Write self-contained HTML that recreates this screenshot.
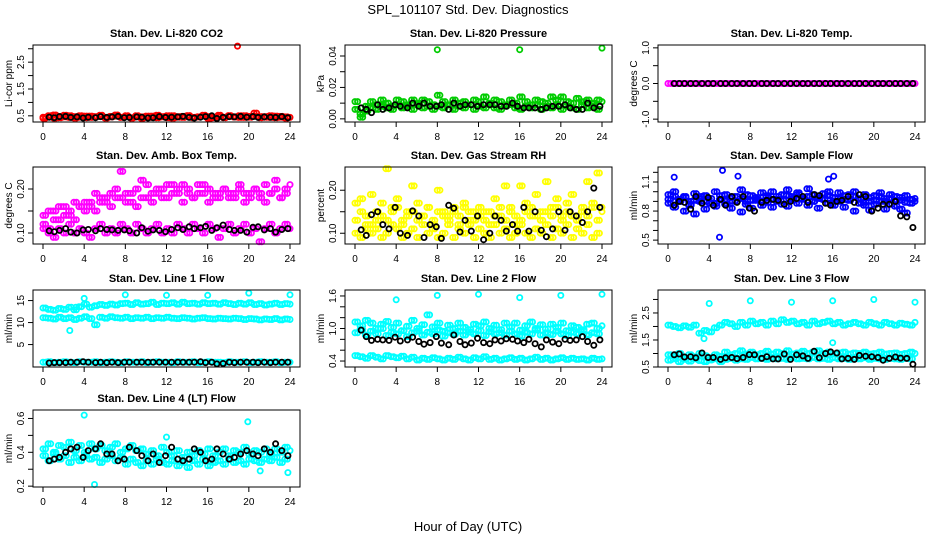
<!DOCTYPE html>
<html><head><meta charset="utf-8">
<style>
body{margin:0;background:#fff;}
svg{display:block;font-family:"Liberation Sans",Arial,sans-serif;}
</style></head>
<body>
<svg id="c" width="936" height="540" viewBox="0 0 936 540">
<text x="468" y="14" text-anchor="middle" font-size="13">SPL_101107  Std. Dev. Diagnostics</text>
<text x="468" y="531" text-anchor="middle" font-size="13">Hour of Day (UTC)</text>
</svg>
<script>
// hours (x categories)
const H = [0,0.5,1,1.5,2,2.5,3,3.5,4,4.5,5,5.5,6,6.5,7,7.5,8,8.5,9,9.5,10,10.5,11,11.5,12,12.5,13,13.5,14,14.5,15,15.5,16,16.5,17,17.5,18,18.5,19,19.5,20,20.5,21,21.5,22,22.5,23,23.5,24];
const H2 = [0.25,0.75,1.25,1.75,2.25,2.75,3.25,3.75,4.25,4.75,5.25,5.75,6.25,6.75,7.25,7.75,8.25,8.75,9.25,9.75,10.25,10.75,11.25,11.75,12.25,12.75,13.25,13.75,14.25,14.75,15.25,15.75,16.25,16.75,17.25,17.75,18.25,18.75,19.25,19.75,20.25,20.75,21.25,21.75,22.25,22.75,23.25,23.75];
const HB = [0.6,1.1,1.6,2.2,2.7,3.3,3.9,4.4,5.1,5.6,6.2,6.7,7.3,7.9,8.4,9.1,9.6,10.2,10.7,11.3,11.9,12.5,13.1,13.6,14.2,14.7,15.3,15.8,16.4,16.9,17.5,18.1,18.6,19.2,19.8,20.4,20.9,21.5,22.1,22.6,23.2,23.8];

// CO2
const co2A = [0.45,0.5,0.42,0.48,0.52,0.44,0.47,0.5,0.43,0.49,0.46,0.51,0.44,0.48,0.53,0.45,0.47,0.42,0.5,0.46,0.49,0.44,0.52,0.47,0.43,0.5,0.45,0.48,0.51,0.44,0.46,0.5,0.47,0.43,0.52,0.45,0.49,0.46,0.5,0.44,0.48,0.6,0.47,0.45,0.5,0.43,0.48,0.46,0.44];
const co2B = [0.41,0.47,0.53,0.43,0.46,0.5,0.42,0.45,0.49,0.44,0.47,0.52,0.42,0.46,0.49,0.44,0.5,0.43,0.47,0.41,0.45,0.49,0.43,0.46,0.5,0.42,0.47,0.44,0.49,0.43,0.46,0.52,0.4,0.45,0.48,0.43,0.51,0.46,0.44,0.5,0.45,0.48,0.43,0.47,0.44,0.49,0.45,0.42];
const co2Blk = [0.45,0.43,0.47,0.48,0.44,0.46,0.42,0.45,0.43,0.47,0.44,0.46,0.48,0.43,0.44,0.46,0.45,0.42,0.43,0.47,0.44,0.45,0.46,0.48,0.44,0.42,0.45,0.47,0.5,0.4,0.44,0.47,0.46,0.48,0.45,0.47,0.44,0.46,0.45,0.44,0.47,0.43];
const co2OutX = [18.9], co2OutY = [3.1];

// Pressure
const prA = [0.011,0.003,0.008,0.011,0.009,0.012,0.01,0.008,0.012,0.011,0.009,0.012,0.01,0.012,0.011,0.009,0.015,0.011,0.009,0.012,0.01,0.011,0.009,0.012,0.011,0.014,0.01,0.012,0.011,0.009,0.012,0.01,0.014,0.011,0.009,0.012,0.011,0.01,0.014,0.012,0.014,0.011,0.01,0.013,0.011,0.012,0.01,0.012,0.011];
const prB = [0.006,0.001,0.005,0.007,0.006,0.008,0.007,0.006,0.009,0.007,0.008,0.006,0.009,0.007,0.008,0.006,0.008,0.007,0.009,0.006,0.008,0.007,0.009,0.006,0.008,0.007,0.009,0.007,0.006,0.008,0.009,0.007,0.006,0.008,0.007,0.009,0.006,0.008,0.007,0.009,0.006,0.008,0.007,0.006,0.009,0.007,0.008,0.006];
const prBlk = [0.007,0.006,0.004,0.009,0.006,0.007,0.009,0.008,0.007,0.01,0.008,0.01,0.008,0.008,0.009,0.006,0.01,0.008,0.009,0.009,0.008,0.009,0.009,0.009,0.008,0.008,0.01,0.008,0.007,0.007,0.007,0.006,0.007,0.008,0.008,0.009,0.007,0.006,0.006,0.01,0.007,0.008];
const prOutX = [8,16,24], prOutY = [0.044,0.044,0.045];

// Li-820 temperature
const tmp = [0,0,0,0,0,0,0,0,0,0,0,0,0,0,0,0,0,0,0,0,0,0,0,0,0,0,0,0,0,0,0,0,0,0,0,0,0,0,0,0,0,0,0,0,0,0,0,0,0];

// Amb box temp
const abA = [0.12,0.15,0.13,0.16,0.14,0.15,0.17,0.16,0.15,0.17,0.19,0.17,0.18,0.19,0.18,0.24,0.19,0.17,0.2,0.18,0.21,0.19,0.2,0.18,0.21,0.19,0.2,0.21,0.19,0.18,0.21,0.19,0.2,0.18,0.19,0.2,0.18,0.19,0.2,0.17,0.19,0.2,0.18,0.21,0.19,0.2,0.18,0.2,0.21];
const abB = [0.14,0.11,0.15,0.13,0.16,0.14,0.13,0.16,0.17,0.16,0.15,0.18,0.17,0.16,0.2,0.18,0.17,0.19,0.16,0.22,0.18,0.17,0.19,0.2,0.18,0.21,0.19,0.17,0.2,0.18,0.19,0.21,0.17,0.19,0.18,0.2,0.19,0.18,0.21,0.19,0.18,0.2,0.19,0.17,0.19,0.22,0.18,0.19];
const abC = [0.11,0.1,0.09,0.11,0.1,0.12,0.1,0.11,0.1,0.09,0.11,0.12,0.1,0.11,0.1,0.12,0.11,0.1,0.12,0.11,0.1,0.11,0.12,0.1,0.11,0.1,0.12,0.11,0.1,0.12,0.11,0.1,0.12,0.11,0.09,0.11,0.12,0.1,0.11,0.12,0.1,0.11,0.08,0.11,0.12,0.1,0.11,0.12,0.11];
const abBlk = [0.105,0.103,0.106,0.11,0.102,0.1,0.107,0.108,0.105,0.11,0.108,0.107,0.106,0.107,0.105,0.1,0.112,0.104,0.107,0.106,0.103,0.108,0.112,0.108,0.114,0.11,0.112,0.115,0.106,0.112,0.118,0.108,0.106,0.106,0.102,0.113,0.114,0.107,0.11,0.102,0.108,0.11,0.106,0.109,0.103,0.105,0.107,0.112];

// Gas stream RH
const rhA = [0.17,0.18,0.11,0.19,0.13,0.17,0.25,0.16,0.18,0.12,0.15,0.21,0.17,0.14,0.16,0.12,0.2,0.15,0.14,0.16,0.12,0.17,0.15,0.13,0.16,0.15,0.12,0.18,0.14,0.21,0.16,0.12,0.21,0.17,0.14,0.19,0.15,0.22,0.16,0.18,0.14,0.17,0.19,0.14,0.16,0.22,0.17,0.24,0.16];
const rhB = [0.1,0.09,0.12,0.1,0.11,0.09,0.1,0.12,0.11,0.09,0.1,0.11,0.09,0.12,0.1,0.11,0.09,0.1,0.12,0.09,0.11,0.1,0.12,0.09,0.11,0.1,0.09,0.12,0.1,0.11,0.09,0.1,0.12,0.1,0.09,0.11,0.1,0.12,0.09,0.11,0.1,0.12,0.09,0.11,0.1,0.12,0.09,0.1];
const rhC = [0.13,0.15,0.14,0.12,0.15,0.14,0.13,0.15,0.16,0.13,0.14,0.15,0.13,0.14,0.16,0.13,0.15,0.14,0.13,0.15,0.14,0.16,0.13,0.15,0.14,0.13,0.15,0.14,0.16,0.13,0.15,0.14,0.13,0.15,0.16,0.14,0.13,0.15,0.14,0.16,0.13,0.15,0.14,0.13,0.15,0.14,0.16,0.13,0.15];
const rhBlk = [0.108,0.095,0.143,0.15,0.12,0.11,0.16,0.1,0.095,0.152,0.14,0.09,0.12,0.115,0.088,0.165,0.158,0.103,0.13,0.105,0.14,0.085,0.1,0.14,0.13,0.105,0.12,0.105,0.16,0.105,0.15,0.107,0.092,0.11,0.15,0.107,0.15,0.14,0.125,0.15,0.205,0.16];

// Sample flow
const sfA = [0.97,1.0,0.92,0.95,0.9,0.98,0.93,0.96,0.88,1.0,0.92,0.97,0.9,0.95,1.02,0.9,0.96,0.92,0.99,0.94,1.0,0.92,0.97,1.02,0.95,0.99,0.93,1.03,0.97,0.93,0.98,1.0,0.94,0.99,0.92,0.97,1.0,0.93,0.97,0.9,0.96,0.99,0.93,0.97,0.95,0.91,0.96,0.92,0.93];
const sfB = [0.88,0.84,0.9,0.8,0.86,0.77,0.9,0.82,0.88,0.85,0.92,0.87,0.83,0.9,0.79,0.87,0.83,0.91,0.86,0.89,0.84,0.9,0.87,0.85,0.91,0.88,0.93,0.86,0.9,0.83,0.92,0.88,0.86,0.9,0.84,0.92,0.8,0.88,0.86,0.81,0.87,0.9,0.82,0.87,0.85,0.82,0.78,0.88];
const sfC = [0.92,0.95,0.9,0.94,0.87,0.91,0.95,0.9,0.93,0.88,0.96,0.91,0.94,0.9,0.93,0.97,0.91,0.94,0.9,0.96,0.92,0.95,0.91,0.96,0.93,0.97,0.92,0.95,0.9,0.94,0.92,0.96,0.9,0.93,0.96,0.91,0.95,0.92,0.89,0.94,0.91,0.95,0.9,0.93,0.91,0.94,0.89,0.92,0.9];
const sfBlk = [0.86,0.9,0.89,0.82,0.95,0.88,0.94,0.86,0.92,0.86,0.95,0.89,0.95,0.83,0.8,0.89,0.91,0.92,0.91,0.87,0.9,0.93,0.95,0.89,0.97,0.96,0.88,0.86,0.9,0.91,0.95,0.89,0.97,0.95,0.8,0.83,0.87,0.87,0.9,0.75,0.74,0.63];
const sfOutX = [0.6,5.0,5.3,6.8,15.6,16.1], sfOutY = [1.15,0.53,1.22,1.16,1.13,1.16];

// Line 1 flow
const l1A = [13.3,13.0,12.8,13.2,13.0,13.5,12.9,13.6,14.2,13.5,13.8,14.1,13.9,14.2,14.0,14.3,14.4,14.1,14.5,14.2,14.3,14.6,14.1,14.4,14.3,14.5,14.2,14.6,14.3,14.4,14.2,14.5,14.3,14.4,14.2,14.5,14.3,14.1,14.4,14.2,14.5,14.1,14.3,14.0,14.2,14.4,14.1,14.3,14.2];
const l1B = [11.1,11.0,10.8,11.2,10.9,11.1,10.7,11.0,11.3,10.9,9.5,11.2,11.0,11.3,11.1,11.0,11.2,10.9,11.1,11.0,11.2,10.9,11.1,11.0,11.2,11.0,10.9,11.1,11.0,10.8,11.0,11.1,10.9,10.8,11.0,10.9,10.8,11.0,10.9,10.7,10.9,10.8,10.6,10.8,10.7,10.9,10.6,10.8,10.7];
const l1C = [1.0,1.1,0.9,1.0,1.1,1.0,0.9,1.1,1.0,1.0,1.1,0.9,1.0,1.1,1.0,0.9,1.1,1.0,1.0,1.1,0.9,1.0,1.1,1.0,1.0,0.9,1.1,1.0,1.0,1.1,0.9,1.0,1.1,1.0,1.0,0.9,1.1,1.0,1.0,1.1,0.9,1.0,1.1,1.0,1.0,1.1,0.9,1.0,1.0];
const l1Blk = [0.8,0.9,0.9,0.9,1.0,1.0,1.1,1.0,0.9,1.0,0.9,1.0,0.9,1.0,1.0,1.0,1.0,1.0,1.0,1.0,1.0,1.0,1.0,1.0,1.0,1.0,1.1,0.9,1.0,0.6,0.7,1.0,0.9,1.0,1.0,1.0,0.9,1.0,0.9,1.0,1.0,1.0];
const l1OutX = [3.2,4.0,8,12,16,20,24,2.6], l1OutY = [13.5,15.5,16.3,16.2,16.2,16.7,16.3,8.2];

// Line 2 flow
const l2A = [1.12,1.05,1.15,1.1,1.0,1.08,1.13,1.02,1.1,0.96,1.04,1.15,1.0,1.07,1.25,1.03,1.1,0.95,1.06,1.0,1.1,1.02,0.98,1.08,1.05,1.12,1.0,1.06,0.98,1.1,1.03,1.1,0.97,1.05,1.12,1.0,1.07,0.99,1.08,1.02,1.1,0.96,1.05,1.02,0.98,1.08,1.1,1.0,1.05];
const l2B = [0.92,0.98,0.88,0.95,0.9,1.0,0.87,0.93,0.9,0.96,0.85,0.92,0.95,0.88,0.93,0.9,0.97,0.86,0.92,0.89,0.95,0.88,0.93,0.9,0.96,0.87,0.94,0.9,0.92,0.88,0.95,0.9,0.86,0.93,0.9,0.97,0.88,0.92,0.89,0.95,0.9,0.87,0.93,0.9,0.95,0.88,0.92,0.9];
const l2C = [0.5,0.48,0.45,0.5,0.47,0.44,0.5,0.48,0.46,0.49,0.44,0.47,0.42,0.45,0.43,0.46,0.44,0.42,0.45,0.43,0.47,0.44,0.42,0.46,0.44,0.48,0.43,0.45,0.42,0.44,0.46,0.43,0.45,0.42,0.44,0.47,0.43,0.45,0.42,0.44,0.46,0.43,0.45,0.43,0.44,0.42,0.45,0.43,0.44];
const l2Blk = [0.97,0.85,0.78,0.8,0.79,0.78,0.84,0.77,0.79,0.84,0.76,0.71,0.74,0.85,0.73,0.7,0.88,0.76,0.7,0.73,0.82,0.74,0.72,0.79,0.77,0.81,0.8,0.77,0.74,0.8,0.72,0.66,0.79,0.75,0.72,0.8,0.78,0.79,0.85,0.76,0.69,0.79];
const l2OutX = [4,8,12,16,20,24], l2OutY = [1.53,1.61,1.63,1.57,1.61,1.63];

// Line 3 flow
const l3A = [2.05,2.0,1.95,2.02,1.97,2.05,1.75,1.85,1.8,1.95,2.05,2.15,2.1,2.0,2.15,2.05,2.2,2.1,2.15,2.05,2.2,2.1,2.25,2.15,2.2,2.1,2.15,2.05,2.2,2.1,2.15,2.2,2.1,2.15,2.05,2.1,2.15,2.1,2.05,2.15,2.1,2.05,2.15,2.1,2.05,2.12,2.08,2.05,2.15];
const l3B = [0.95,0.9,1.0,0.85,0.95,0.88,1.0,0.92,0.85,0.95,0.9,1.05,0.95,1.0,1.1,0.98,1.05,0.95,1.0,1.08,0.98,1.05,1.0,1.1,0.98,1.02,1.08,1.0,1.05,1.1,1.0,1.05,0.98,1.02,1.05,0.98,1.02,1.0,1.05,0.98,1.0,1.05,0.98,1.0,1.02,0.97,1.0,1.05,1.0];
const l3C = [0.75,0.8,0.7,0.78,0.72,0.8,0.74,0.7,0.76,0.8,0.7,0.78,0.82,0.75,0.8,0.78,0.85,0.8,0.82,0.78,0.85,0.8,0.82,0.78,0.85,0.8,0.82,0.8,0.85,0.8,0.82,0.78,0.84,0.8,0.82,0.78,0.82,0.8,0.84,0.78,0.82,0.8,0.78,0.82,0.8,0.78,0.82,0.8];
const l3Blk = [0.95,0.98,0.87,0.88,0.84,1.02,0.85,0.85,0.78,0.84,0.85,0.81,0.85,0.96,0.95,0.82,0.88,0.8,0.8,0.98,0.78,0.95,0.91,0.82,1.08,0.84,1.0,1.06,1.02,0.8,0.82,0.78,0.93,0.9,0.88,0.85,0.75,0.82,0.87,0.83,0.82,0.6];
const l3OutX = [4,8,12,16,20,24,3.5,16], l3OutY = [2.85,2.95,2.9,2.95,3.0,2.9,1.55,1.4];

// Line 4 flow
const l4A = [0.42,0.45,0.4,0.44,0.43,0.46,0.41,0.44,0.4,0.45,0.42,0.44,0.41,0.43,0.45,0.4,0.42,0.44,0.41,0.42,0.39,0.41,0.38,0.43,0.4,0.38,0.41,0.37,0.4,0.38,0.41,0.39,0.42,0.38,0.4,0.42,0.38,0.41,0.4,0.43,0.39,0.41,0.4,0.42,0.39,0.42,0.4,0.43,0.41];
const l4B = [0.38,0.35,0.39,0.36,0.38,0.34,0.37,0.35,0.38,0.36,0.37,0.34,0.36,0.38,0.35,0.37,0.33,0.36,0.34,0.32,0.35,0.33,0.36,0.34,0.33,0.35,0.32,0.34,0.31,0.35,0.33,0.36,0.32,0.34,0.35,0.33,0.36,0.34,0.35,0.33,0.36,0.35,0.34,0.36,0.35,0.37,0.34,0.36];
const l4Blk = [0.35,0.36,0.37,0.4,0.42,0.43,0.37,0.41,0.42,0.45,0.39,0.39,0.35,0.36,0.43,0.41,0.38,0.35,0.39,0.34,0.38,0.43,0.36,0.35,0.36,0.42,0.4,0.35,0.36,0.42,0.39,0.36,0.37,0.39,0.41,0.39,0.38,0.42,0.4,0.45,0.41,0.38];
const l4OutX = [4.0,5.0,12,19.9,21.1,23.8], l4OutY = [0.62,0.21,0.49,0.58,0.29,0.28];

const S = document.getElementById('c');
const NS = 'http://www.w3.org/2000/svg';
function mk(tag, attrs, parent){const e=document.createElementNS(NS,tag);for(const k in attrs)e.setAttribute(k,attrs[k]);(parent||S).appendChild(e);return e;}

const colL=[33,345,658], rowT=[45,167,290,410], PW=267, PH=77;
const RED='#ff0000',GRN='#00cc00',MAG='#ff00ff',YEL='#ffff00',BLU='#0000ff',CYN='#00ffff',BLK='#000000';

const panels = [
 {name:'co2',title:'Stan. Dev. Li-820 CO2',yl:'Li-cor ppm',c:0,r:0,ylim:[0.27,3.14],ticks:[0.5,1,1.5,2,2.5,3],labs:[0.5,1.5,2.5],dec:1,
  s:[[H,co2A,RED],[H2,co2B,RED],[H2,co2A,RED],[H,co2B,RED],[co2OutX,co2OutY,RED],[HB,co2Blk,BLK]]},
 {name:'pressure',title:'Stan. Dev. Li-820 Pressure',yl:'kPa',c:1,r:0,ylim:[-0.002,0.047],ticks:[0,0.01,0.02,0.03,0.04],labs:[0,0.02,0.04],dec:2,
  s:[[H,prA,GRN],[H2,prB,GRN],[H2,prA,GRN],[H,prB,GRN],[prOutX,prOutY,GRN],[HB,prBlk,BLK]]},
 {name:'temp',title:'Stan. Dev. Li-820 Temp.',yl:'degrees C',c:2,r:0,ylim:[-1.08,1.08],ticks:[-1,-0.5,0,0.5,1],labs:[-1,0,1],dec:1,
  s:[[H,tmp,MAG],[H2,tmp,MAG],[HB,tmp,BLK]]},
 {name:'amb-box-temp',title:'Stan. Dev. Amb. Box Temp.',yl:'degrees C',c:0,r:1,ylim:[0.075,0.25],ticks:[0.1,0.15,0.2],labs:[0.1,0.2],dec:2,
  s:[[H,abA,MAG],[H2,abB,MAG],[H,abC,MAG],[H2,abA,MAG],[H,abB,MAG],[H2,abC,MAG],[HB,abBlk,BLK]]},
 {name:'gas-rh',title:'Stan. Dev. Gas Stream RH',yl:'percent',c:1,r:1,ylim:[0.075,0.254],ticks:[0.1,0.15,0.2],labs:[0.1,0.2],dec:2,
  s:[[H,rhA,YEL],[H2,rhB,YEL],[H,rhC,YEL],[H2,rhA,YEL],[H,rhB,YEL],[H2,rhC,YEL],[HB,rhBlk,BLK]]},
 {name:'sample-flow',title:'Stan. Dev. Sample Flow',yl:'ml/min',c:2,r:1,ylim:[0.46,1.255],ticks:[0.5,0.6,0.7,0.8,0.9,1,1.1,1.2],labs:[0.5,0.8,1.1],dec:1,
  s:[[H,sfA,BLU],[H2,sfB,BLU],[H,sfC,BLU],[H2,sfA,BLU],[H,sfB,BLU],[H2,sfC,BLU],[sfOutX,sfOutY,BLU],[HB,sfBlk,BLK]]},
 {name:'line1-flow',title:'Stan. Dev. Line 1 Flow',yl:'ml/min',c:0,r:2,ylim:[-0.1,17.4],ticks:[5,10,15],labs:[5,10,15],dec:0,
  s:[[H,l1A,CYN],[H2,l1A,CYN],[H,l1B,CYN],[H2,l1B,CYN],[H,l1C,CYN],[H2,l1C,CYN],[l1OutX,l1OutY,CYN],[HB,l1Blk,BLK]]},
 {name:'line2-flow',title:'Stan. Dev. Line 2 Flow',yl:'ml/min',c:1,r:2,ylim:[0.29,1.71],ticks:[0.4,0.6,0.8,1,1.2,1.4,1.6],labs:[0.4,1,1.6],dec:1,
  s:[[H,l2A,CYN],[H2,l2B,CYN],[H2,l2A,CYN],[H,l2B,CYN],[H,l2C,CYN],[H2,l2C,CYN],[l2OutX,l2OutY,CYN],[HB,l2Blk,BLK]]},
 {name:'line3-flow',title:'Stan. Dev. Line 3 Flow',yl:'ml/min',c:2,r:2,ylim:[0.5,3.35],ticks:[0.5,1,1.5,2,2.5,3],labs:[0.5,1.5,2.5],dec:1,
  s:[[H,l3A,CYN],[H2,l3A,CYN],[H,l3B,CYN],[H2,l3B,CYN],[H,l3C,CYN],[H2,l3C,CYN],[l3OutX,l3OutY,CYN],[HB,l3Blk,BLK]]},
 {name:'line4-flow',title:'Stan. Dev. Line 4 (LT) Flow',yl:'ml/min',c:0,r:3,ylim:[0.195,0.65],ticks:[0.2,0.3,0.4,0.5,0.6],labs:[0.2,0.4,0.6],dec:1,
  s:[[H,l4A,CYN],[H2,l4A,CYN],[H2,l4B,CYN],[H,l4B,CYN],[l4OutX,l4OutY,CYN],[HB,l4Blk,BLK]]}
];
const xTicks=[0,4,8,12,16,20,24];

panels.forEach(p=>{
  const L=colL[p.c], T=rowT[p.r];
  const g=mk('g',{});
  
  
  const xs=h=>L+10+h/24*247;
  const ys=v=>T+PH-(v-p.ylim[0])/(p.ylim[1]-p.ylim[0])*PH;
  const t=mk('text',{x:L+PW/2,y:T-8,'text-anchor':'middle','font-size':'11','font-weight':'bold'},g);
  t.textContent=p.title;
  
  
  const pg=mk('g',{fill:'none','stroke-width':'1.8'},g);
  
  
  p.s.forEach(ser=>{
    const X=ser[0],Y=ser[1],col=ser[2];
    const n=Math.min(X.length,Y.length);
    for(let i=0;i<n;i++){
      const cy=ys(Y[i]); if(cy<T-2||cy>T+PH+2) continue;
      const c=mk('circle',{cx:xs(X[i]).toFixed(1),cy:cy.toFixed(1),r:'2.6',stroke:col},pg);
      
      
    }
  });
  const b=mk('rect',{x:L,y:T,width:PW,height:PH,fill:'none',stroke:'#000','stroke-width':'1'},g);
  
  
  xTicks.forEach(h=>{
    const x=xs(h);
    mk('line',{x1:x,x2:x,y1:T+PH,y2:T+PH+5,stroke:'#000'},g);
    const tl=mk('text',{x:x,y:T+PH+18,'text-anchor':'middle','font-size':'10'},g);
    tl.textContent=h;
    
    
  });
  p.ticks.forEach(v=>{
    const y=ys(v); if(y<T-1||y>T+PH+1) return;
    mk('line',{x1:L,x2:L-5,y1:y,y2:y,stroke:'#000'},g);
  });
  p.labs.forEach(v=>{
    const y=ys(v);
    const tl=mk('text',{x:0,y:0,'text-anchor':'middle','font-size':'10',transform:`translate(${L-9},${y}) rotate(-90)`},g);
    tl.textContent=v.toFixed(p.dec);
    
    
  });
  const yt=mk('text',{x:0,y:0,'text-anchor':'middle','font-size':'10',transform:`translate(${L-21},${T+PH/2}) rotate(-90)`},g);
  yt.textContent=p.yl;
  
  
});
</script>
</body></html>
